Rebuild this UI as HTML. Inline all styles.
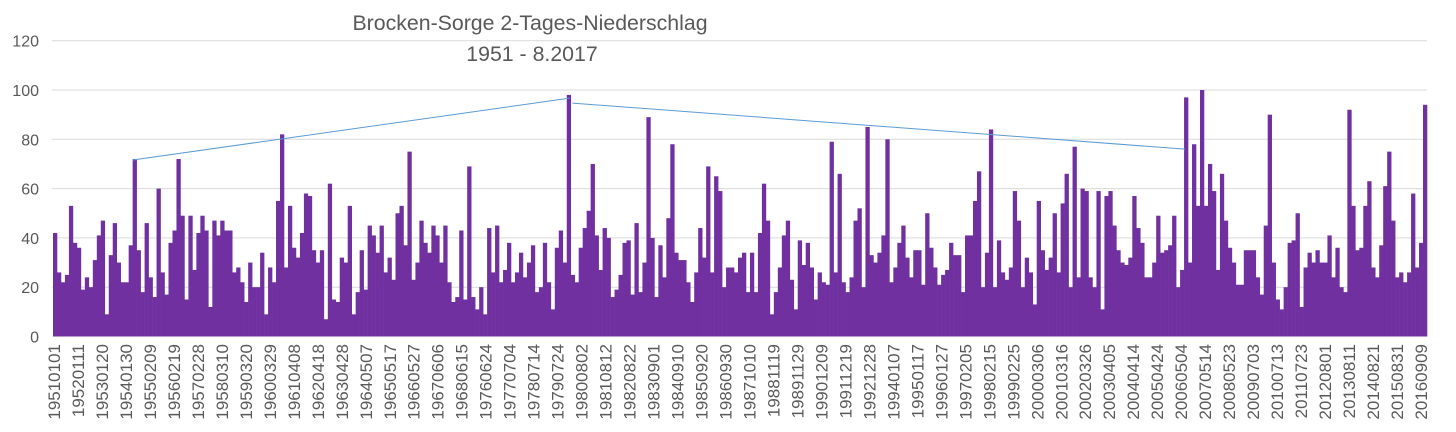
<!DOCTYPE html>
<html><head><meta charset="utf-8"><style>
html,body{margin:0;padding:0;background:#fff;}
svg{display:block;font-family:"Liberation Sans",sans-serif;}
</style></head><body>
<svg id="chart" width="1456" height="432">
<text x="530" y="30" text-anchor="middle" font-size="21.3" fill="#595959">Brocken-Sorge 2-Tages-Niederschlag</text>
<text x="532" y="61" text-anchor="middle" font-size="21.3" fill="#595959">1951 - 8.2017</text>
<g id="grid"></g>
<g id="bars"></g>
<g id="trend"></g>
<g id="yaxis"></g>
<g id="xaxis"></g>
</svg>
<script>
const yTicks = [0,20,40,60,80,100,120];
const xLabels = ["19510101","19520111","19530120","19540130","19550209","19560219","19570228","19580310","19590320","19600329","19610408","19620418","19630428","19640507","19650517","19660527","19670606","19680615","19760624","19770704","19780714","19790724","19800802","19810812","19820822","19830901","19840910","19850920","19860930","19871010","19881119","19891129","19901209","19911219","19921228","19940107","19950117","19960127","19970205","19980215","19990225","20000306","20010316","20020326","20030405","20040414","20050424","20060504","20070514","20080523","20090703","20100713","20110723","20120801","20130811","20140821","20150831","20160909"];
const values = [42,26,22,25,53,38,36,19,24,20,31,41,47,9,33,46,30,22,22,37,72,35,18,46,24,16,60,26,17,38,43,72,49,15,49,27,42,49,43,12,47,41,47,43,43,26,28,22,14,30,20,20,34,9,28,22,55,82,28,53,36,32,42,58,57,35,30,35,7,62,15,14,32,30,53,9,18,35,19,45,41,34,45,26,32,23,50,
53,37,75,23,30,47,38,34,45,41,30,45,22,14,16,43,15,69,16,11,20,9,44,26,45,22,27,38,22,26,34,24,30,37,18,20,38,22,11,36,43,30,98,25,22,36,44,51,70,41,27,44,40,16,19,25,38,39,17,46,18,30,89,40,16,37,24,48,78,34,31,31,22,14,26,44,32,69,26,65,59,20,28,28,26,32,34,
18,34,18,42,62,47,9,18,28,41,47,23,11,39,29,38,28,15,26,22,21,79,26,66,22,18,24,47,52,20,85,33,30,34,41,80,22,28,38,45,32,24,35,35,21,50,36,28,21,25,27,38,33,33,18,41,41,55,67,20,34,84,20,39,26,23,28,59,47,20,32,26,13,55,35,27,32,50,26,54,66,20,77,24,60,59,24,20,
59,11,57,59,45,35,30,29,32,57,44,38,24,24,30,49,34,35,37,49,20,27,97,30,78,53,100,53,70,59,27,66,47,36,30,21,21,35,35,35,24,17,45,90,30,15,11,20,38,39,50,12,28,34,30,35,30,30,41,24,36,20,18,92,53,35,36,53,63,28,24,37,61,75,47,24,26,22,26,58,28,38,94];
const trendPos = [0.058,0.376,0.378,0.824];
const trendVals = [71.6,96.7,94.7,76];

const NS="http://www.w3.org/2000/svg";
const X0=53, X1=1427, Y0=336.5, YTOP=40.7;
const yScale=v=>Y0-(v/120)*(Y0-YTOP);
const bw=(X1-X0)/values.length;
const xScale=i=>X0+i*bw;
const posScale=p=>X0+p*(X1-X0);
function mk(tag,attrs,parent){const e=document.createElementNS(NS,tag);for(const k in attrs)e.setAttribute(k,attrs[k]);parent.appendChild(e);return e;}
const grid=document.getElementById('grid'),yax=document.getElementById('yaxis');
yTicks.forEach(t=>{
  if(t>0){const l=mk('line',{x1:X0-1,x2:X1,y1:yScale(t),y2:yScale(t),stroke:'#d9d9d9','stroke-width':1},grid);
  
  }
  const tx=mk('text',{x:39,y:yScale(t)+6,'text-anchor':'end','font-size':16,fill:'#595959'},yax);
  tx.textContent=t;
  
  
});
const bars=document.getElementById('bars');
values.forEach((v,i)=>{
  const r=mk('rect',{x:xScale(i),y:yScale(v),width:bw+0.3,height:Y0-yScale(v),fill:'#7030a0'},bars);
  
  
});
const trend=document.getElementById('trend');
for(let s=0;s<trendPos.length;s+=2){
  const l=mk('line',{x1:posScale(trendPos[s]),y1:yScale(trendVals[s]),x2:posScale(trendPos[s+1]),y2:yScale(trendVals[s+1]),stroke:'#5b9bd5','stroke-width':1},trend);
  
  
}
const xax=document.getElementById('xaxis');
xLabels.forEach((lab,i)=>{
  const x=54+i*(1421-54)/(xLabels.length-1);
  const t=mk('text',{x:0,y:0,'text-anchor':'end','font-size':17,fill:'#595959',transform:'translate('+(x+6)+',344) rotate(-90)'},xax);
  t.textContent=lab;
  
  
});
</script>
</body></html>
